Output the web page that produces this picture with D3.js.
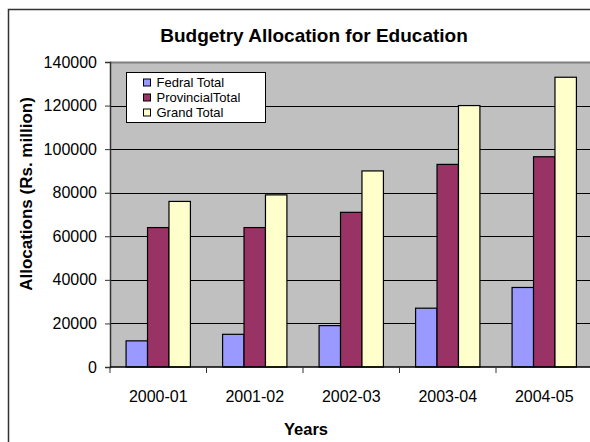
<!DOCTYPE html>
<html>
<head>
<meta charset="utf-8">
<script src="https://cdn.jsdelivr.net/npm/d3@7"></script>
<style>
  html, body { margin: 0; padding: 0; background: #fff; }
  svg { display: block; font-family: "Liberation Sans", Arial, sans-serif; }
</style>
</head>
<body>
<svg id="chart" width="590" height="442"></svg>
<script>
// Budget allocations for education (Rs. million)
const years = ["2000-01", "2001-02", "2002-03", "2003-04", "2004-05"];
const seriesNames = ["Fedral Total", "ProvincialTotal", "Grand Total"];
const federalTotal = [12000, 15000, 19000, 27000, 36500];
const provincialTotal = [64000, 64000, 71000, 93000, 96500];
const grandTotal = [76000, 79000, 90000, 120000, 133000];
const yTicks = [0, 20000, 40000, 60000, 80000, 100000, 120000, 140000];
const seriesColors = ["#9999FF", "#993366", "#FFFFCC"];

const seriesValues = [federalTotal, provincialTotal, grandTotal];

const svg = d3.select("#chart");

// chart frame (extends past the window on the right and bottom)
svg.append("rect")
  .attr("x", 8.5).attr("y", 9.5)
  .attr("width", 640).attr("height", 460)
  .attr("fill", "#fff")
  .attr("stroke", "#333").attr("stroke-width", 1.5);

const plot = { left: 110, top: 62, right: 592.5, bottom: 367 };

const x0 = d3.scaleBand().domain(years).range([plot.left, plot.right]).paddingInner(0).paddingOuter(0);
const x1 = d3.scaleBand().domain(seriesNames).range([0, x0.bandwidth()]).paddingInner(0).paddingOuter(0.75);
const y = d3.scaleLinear().domain([0, 140000]).range([plot.bottom, plot.top]);

// plot area background
svg.append("rect")
  .attr("x", plot.left).attr("y", plot.top)
  .attr("width", 620 - plot.left).attr("height", plot.bottom - plot.top)
  .attr("fill", "#C0C0C0");

// top border of the plot area
svg.append("line")
  .attr("x1", plot.left).attr("x2", 620)
  .attr("y1", plot.top + 0.5).attr("y2", plot.top + 0.5)
  .attr("stroke", "#808080").attr("stroke-width", 2);

// horizontal gridlines
svg.append("g")
  .selectAll("line")
  .data(yTicks.filter(t => t > 0 && t < 140000))
  .join("line")
  .attr("x1", plot.left).attr("x2", 620)
  .attr("y1", d => Math.round(y(d)) + 0.5).attr("y2", d => Math.round(y(d)) + 0.5)
  .attr("stroke", "#000").attr("stroke-width", 1);

// bars
const groups = svg.append("g")
  .selectAll("g")
  .data(years)
  .join("g")
  .attr("transform", d => `translate(${x0(d)},0)`);

groups.selectAll("rect")
  .data((d, i) => seriesNames.map((s, j) => ({ s, j, v: seriesValues[j][i] })))
  .join("rect")
  .attr("x", d => x1(d.s))
  .attr("y", d => y(d.v))
  .attr("width", x1.bandwidth())
  .attr("height", d => y(0) - y(d.v))
  .attr("fill", d => seriesColors[d.j])
  .attr("stroke", "#000").attr("stroke-width", 1.2);

// y axis
const yAxis = d3.axisLeft(y).tickValues(yTicks).tickSize(5).tickPadding(8).tickFormat(d3.format("d"));
const gy = svg.append("g").attr("transform", `translate(${plot.left},0)`).call(yAxis);
gy.select(".domain").attr("stroke", "#333").attr("stroke-width", 1.5);
gy.selectAll(".tick line").attr("stroke", "#333");
gy.selectAll(".tick text")
  .attr("font-family", "Liberation Sans, Arial, sans-serif")
  .attr("font-size", 16).attr("fill", "#000");

// x axis with tick marks at category boundaries
const gx = svg.append("g").attr("transform", `translate(0,${plot.bottom})`);
gx.append("line")
  .attr("x1", plot.left).attr("x2", 620)
  .attr("y1", 0).attr("y2", 0)
  .attr("stroke", "#000").attr("stroke-width", 1.5);
gx.selectAll("line.tk")
  .data(years)
  .join("line")
  .attr("class", "tk")
  .attr("x1", d => x0(d)).attr("x2", d => x0(d))
  .attr("y1", 0).attr("y2", 6)
  .attr("stroke", "#333");
gx.selectAll("text")
  .data(years)
  .join("text")
  .attr("x", d => x0(d) + x0.bandwidth() / 2)
  .attr("y", 35)
  .attr("text-anchor", "middle")
  .attr("font-size", 16)
  .attr("fill", "#000")
  .text(d => d);

// titles
svg.append("text")
  .attr("x", 314).attr("y", 42)
  .attr("text-anchor", "middle")
  .attr("font-size", 19).attr("font-weight", "bold")
  .text("Budgetry Allocation for Education");

svg.append("text")
  .attr("x", 306).attr("y", 435)
  .attr("text-anchor", "middle")
  .attr("font-size", 16.5).attr("font-weight", "bold")
  .text("Years");

svg.append("text")
  .attr("transform", "translate(32,194) rotate(-90)")
  .attr("text-anchor", "middle")
  .attr("font-size", 17).attr("font-weight", "bold")
  .text("Allocations (Rs. million)");

// legend
const legend = svg.append("g").attr("transform", "translate(126.5,72.5)");
legend.append("rect")
  .attr("width", 139).attr("height", 50)
  .attr("fill", "#fff").attr("stroke", "#000").attr("stroke-width", 1);
const items = legend.selectAll("g.item")
  .data(seriesNames)
  .join("g")
  .attr("class", "item")
  .attr("transform", (d, i) => `translate(17,${10 + i * 15})`);
items.append("rect")
  .attr("x", 0).attr("y", -3.5)
  .attr("width", 7).attr("height", 7)
  .attr("fill", (d, i) => seriesColors[i])
  .attr("stroke", "#000").attr("stroke-width", 1);
items.append("text")
  .attr("x", 13).attr("y", 4.5)
  .attr("font-size", 13)
  .attr("fill", "#000")
  .text(d => d);
</script>
</body>
</html>
